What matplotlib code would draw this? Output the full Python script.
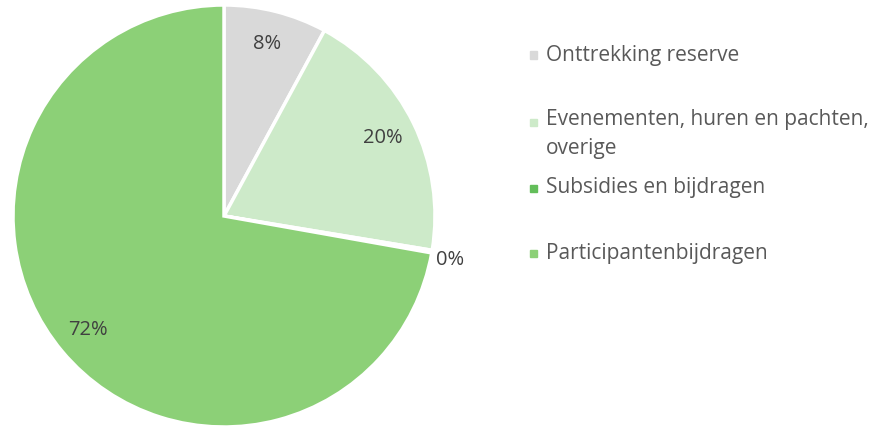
import matplotlib
matplotlib.use("Agg")
import matplotlib.pyplot as plt
import numpy as np
from matplotlib.patches import Rectangle

categories = ["Onttrekking reserve", "Evenementen, huren en pachten,\noverige",
              "Subsidies en bijdragen", "Participantenbijdragen"]
values = [7.9, 19.7, 0.2, 72.2]
pct_labels = ["8%", "20%", "0%", "72%"]
colors = ["#D9D9D9", "#CDEAC9", "#63BE5A", "#8CD077"]

plt.rcParams['font.family'] = ['Open Sans', 'DejaVu Sans']

W, H = 874, 426
fig = plt.figure(figsize=(W/100, H/100), dpi=100)
cx, cy, R = 224, 216, 211
ax = fig.add_axes([(cx-R)/W, (H-cy-R)/H, 2*R/W, 2*R/H])
wedges, _ = ax.pie(values, colors=colors, startangle=90, counterclock=False,
                   radius=1.0, wedgeprops=dict(edgecolor="white", linewidth=2.5))
ax.set_xlim(-1, 1); ax.set_ylim(-1, 1)
ax.set_aspect('equal')
ax.axis('off')

for w, lab in zip(wedges, pct_labels):
    mid = (w.theta1 + w.theta2) / 2
    if lab == "0%":
        ang, d = np.deg2rad(mid - 1.2), 1.09
    else:
        ang, d = np.deg2rad(mid), 0.84
    ax.text(d*np.cos(ang), d*np.sin(ang), lab, ha='center', va='center',
            fontsize=14.5, color='#404040')

# legend
ys = [55, 122, 188, 253]
for lab, col, y in zip(categories, colors, ys):
    fig.patches.append(Rectangle((530/W, 1-(y+3.5)/H), 7/W, 7/H,
                                 transform=fig.transFigure, color=col))
    if "\n" in lab:
        fig.text(546/W, 1-(y-13)/H, lab, ha='left', va='top',
                 fontsize=15, color='#595959', linespacing=1.5)
    else:
        fig.text(546/W, 1-y/H, lab, ha='left', va='center',
                 fontsize=15, color='#595959')

fig.savefig("out.png", dpi=100)
